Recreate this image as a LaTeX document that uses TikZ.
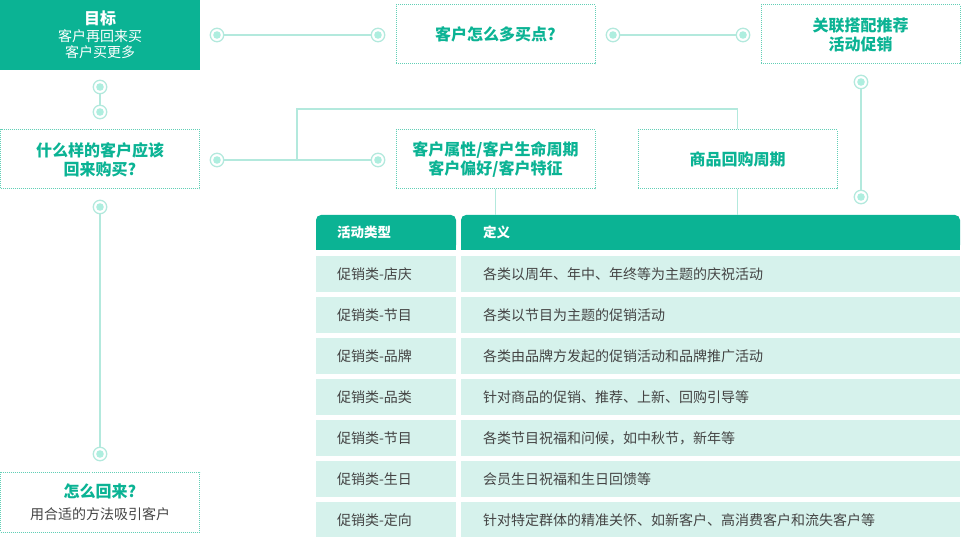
\documentclass[tikz,border=0pt]{standalone}
\usepackage{fontspec}
\setmainfont{Noto Sans CJK SC}
\usetikzlibrary{positioning}
\definecolor{tealA}{HTML}{0BB394}
\definecolor{mintA}{HTML}{D6F2EC}
\definecolor{lineA}{HTML}{B3E9DD}
\definecolor{dotA}{HTML}{62CFB6}
\definecolor{dotB}{HTML}{AEEEDF}
\definecolor{grayA}{HTML}{444444}

\begin{document}
\begin{tikzpicture}
			[x=1pt, y=-1pt, node distance=5pt,
			 qbox/.style={draw=dotA, line width=1pt, dash pattern=on 1pt off 1pt, minimum width=199pt, minimum height=59pt, inner sep=0pt, align=center, text=tealA, font=\fontsize{16}{19}\selectfont\bfseries},
			 marker/.style={circle, draw=lineA, line width=1.3pt, fill=white, minimum size=13.5pt, inner sep=0pt, path picture={\fill[dotB] (path picture bounding box.center) circle (3.8pt);}},
			 link/.style={draw=lineA, line width=1.2pt},
			 headA/.style={fill=tealA, rounded corners=5pt, text=white, font=\fontsize{13.5}{15}\selectfont\bfseries, minimum height=35pt, inner ysep=0pt, outer sep=0pt, align=left},
			 cellA/.style={fill=mintA, text=grayA, font=\fontsize{14}{16}\selectfont, minimum height=36pt, inner ysep=0pt, outer sep=0pt, align=left, inner xsep=21pt, text width=98pt},
			 cellB/.style={fill=mintA, text=grayA, font=\fontsize{14}{16}\selectfont, minimum height=36pt, inner ysep=0pt, outer sep=0pt, align=left, inner xsep=22pt, text width=455pt}]
			\useasboundingbox (0,0) rectangle (961,537);
			% nodes %
			\node[fill=tealA, minimum width=200pt, minimum height=70pt, inner sep=0pt, align=center, text=white, font=\fontsize{14}{15.5}\selectfont] (goal) at (100,35) {{\fontsize{16}{18}\selectfont\bfseries 目标}\\[1.5pt]客户再回来买\\客户买更多};
			\node[qbox] (more) at (495.5,34.5) {客户怎么多买点?};
			\node[qbox] (pair) at (860.5,34.5) {关联搭配推荐\\活动促销};
			\node[qbox] (who) at (100,159.5) {什么样的客户应该\\回来购买?};
			\node[qbox] (attr) at (495.5,159.5) {客户属性/客户生命周期\\客户偏好/客户特征};
			\node[qbox] (prod) at (737.5,159.5) {商品回购周期};
			\node[qbox, minimum height=60pt] (how) at (100,502) {怎么回来?\\[3pt]{\color{grayA}\fontsize{14}{16}\selectfont\mdseries 用合适的方法吸引客户}};

			\node[marker] (m1) at (217,35) {};
			\node[marker] (m2) at (378,35) {};
			\node[marker] (m3) at (613,35) {};
			\node[marker] (m4) at (743,35) {};
			\node[marker] (m5) at (100,87) {};
			\node[marker] (m6) at (100,112) {};
			\node[marker] (m7) at (217,160) {};
			\node[marker] (m8) at (378,160) {};
			\node[marker] (m9) at (861,82) {};
			\node[marker] (m10) at (861,197) {};
			\node[marker] (m11) at (100,207) {};
			\node[marker] (m12) at (100,454) {};
			\coordinate (j1) at (297,160);
			\coordinate (j2) at (297,109);

			% table %
			\node[headA, minimum width=140pt, inner xsep=21pt, text width=98pt] (h1) at (386,232.5) {活动类型};
			\node[headA, minimum width=499pt, inner xsep=22pt, text width=455pt] (h2) at (710.5,232.5) {定义};
			\fill[tealA] (316,244) rectangle (456,250);
			\fill[tealA] (461,244) rectangle (960,250);
			\node[cellA, below=6pt of h1] (a1) {促销类-店庆};
			\node[cellB, below=6pt of h2] (b1) {各类以周年、年中、年终等为主题的庆祝活动};
			\node[cellA, below=of a1] (a2) {促销类-节目};
			\node[cellB, below=of b1] (b2) {各类以节目为主题的促销活动};
			\node[cellA, below=of a2] (a3) {促销类-品牌};
			\node[cellB, below=of b2] (b3) {各类由品牌方发起的促销活动和品牌推广活动};
			\node[cellA, below=of a3] (a4) {促销类-品类};
			\node[cellB, below=of b3] (b4) {针对商品的促销、推荐、上新、回购引导等};
			\node[cellA, below=of a4] (a5) {促销类-节目};
			\node[cellB, below=of b4] (b5) {各类节目祝福和问候，如中秋节，新年等};
			\node[cellA, below=of a5] (a6) {促销类-生日};
			\node[cellB, below=of b5] (b6) {会员生日祝福和生日回馈等};
			\node[cellA, below=of a6] (a7) {促销类-定向};
			\node[cellB, below=of b6] (b7) {针对特定群体的精准关怀、如新客户、高消费客户和流失客户等};

			% edges %
			\draw[link] (m1) -- (m2);
			\draw[link] (m3) -- (m4);
			\draw[link] (m5) -- (m6);
			\draw[link] (m7) -- (m8);
			\draw[link] (m9) -- (m10);
			\draw[link] (m11) -- (m12);
			\draw[link] (j1) -- (j2) -| (prod.north);
			\draw[link] (attr) -- (attr |- h2.north);
			\draw[link] (prod) -- (prod |- h2.north);
			\end{tikzpicture}
\end{document}
